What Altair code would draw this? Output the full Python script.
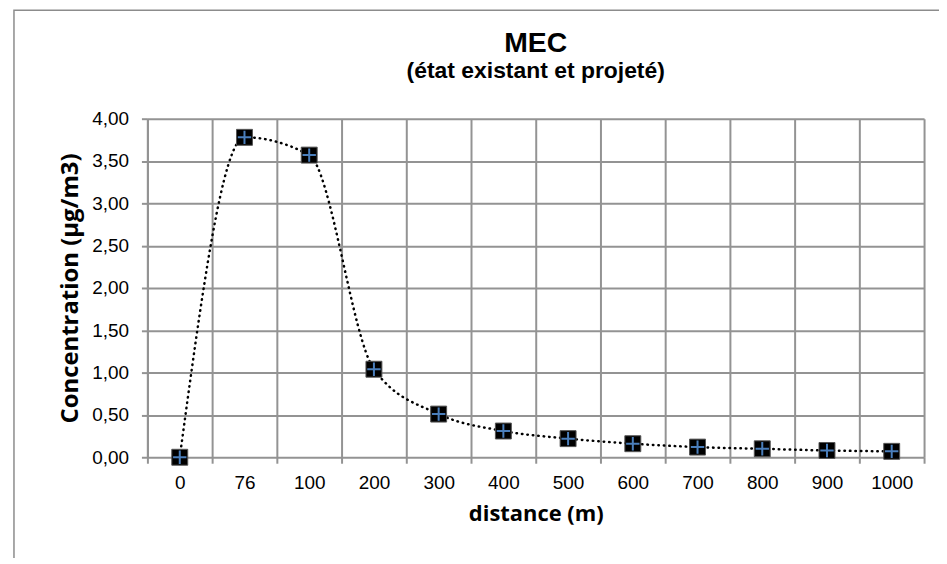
import altair as alt
import pandas as pd

distances = ["0", "76", "100", "200", "300", "400", "500", "600", "700", "800", "900", "1000"]
concentration = [0.00, 3.78, 3.57, 1.04, 0.51, 0.31, 0.22, 0.16, 0.12, 0.10, 0.08, 0.07]
y_ticks = [0, 0.5, 1, 1.5, 2, 2.5, 3, 3.5, 4]

df = pd.DataFrame({"distance": distances, "conc": concentration})
frame_df = pd.DataFrame({"k": [0]})

x_enc = alt.X(
    "distance:N", sort=None,
    scale=alt.Scale(type="band", paddingInner=0, paddingOuter=0),
    axis=alt.Axis(title="distance (m)", labelAngle=0, tickBand="extent", grid=True,
                  tickSize=6, labelPadding=10, titlePadding=12, titleFontSize=22),
)
y_enc = alt.Y(
    "conc:Q", scale=alt.Scale(domain=[0, 4], nice=False),
    axis=alt.Axis(title="Concentration (µg/m3)", values=y_ticks,
                  labelExpr="replace(format(datum.value, '.2f'), '.', ',')",
                  tickSize=6, labelPadding=13, titlePadding=9, titleFontSize=24),
)

frame = alt.Chart(frame_df).mark_rect(fill=None, stroke="#8c8c8c", strokeWidth=1.5, clip=False).encode(
    x=alt.value(-134), x2=alt.value(1200), y=alt.value(-109), y2=alt.value(900)
)

base = alt.Chart(df).encode(x=x_enc, y=y_enc)
line = base.mark_line(interpolate="monotone", color="black", strokeWidth=2.5,
                      strokeDash=[0.5, 5], strokeCap="round")
squares = base.mark_square(size=256, color="black", opacity=1, stroke="#555555", strokeWidth=1)
plus = base.mark_point(shape="M-1,0H1M0,-1V1", size=180, filled=False, opacity=1,
                       stroke="#4a7ebb", strokeWidth=2)

chart = alt.layer(frame, line, squares, plus).properties(
    width=780, height=340,
    autosize=alt.AutoSizeParams(type="none"),
    padding={"left": 140, "top": 110, "right": 15, "bottom": 100},
    title=alt.TitleParams(
        text="MEC", subtitle="(état existant et projeté)", frame="group",
        font="Liberation Sans", fontSize=28.5, fontWeight="bold", color="black",
        subtitleFont="Liberation Sans", subtitleFontSize=23, subtitleFontWeight="bold",
        subtitleColor="black", subtitlePadding=3, anchor="middle", offset=-74,
    ),
).configure_view(stroke=None).configure_axis(
    gridColor="#939393", gridWidth=2, domainColor="#939393", domainWidth=2,
    tickColor="#939393", tickWidth=2,
    labelFont="Liberation Sans", labelFontSize=19, labelColor="black",
    titleFont="Open Sans", titleFontWeight="bold", titleColor="black",
).configure_axisX(domain=False)

chart.save("out.html", embed_options={"renderer": "svg", "actions": False})
